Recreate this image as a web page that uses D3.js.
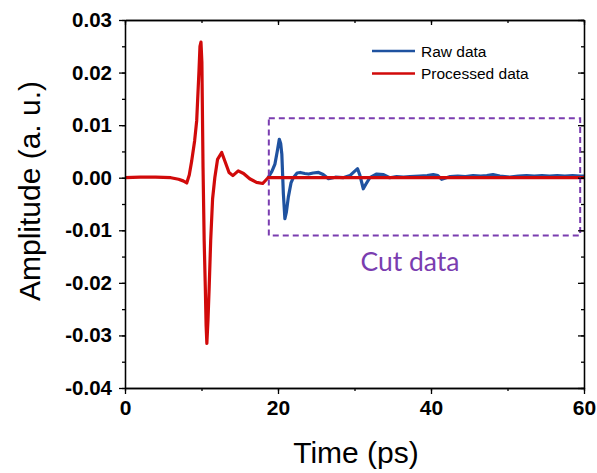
<!DOCTYPE html>
<html><head><meta charset="utf-8">
<script src="https://cdn.jsdelivr.net/npm/d3@7"></script>
<style>body{margin:0;background:#fff}svg{display:block}</style>
</head><body><svg id="c" width="597" height="473"></svg>
<script>
const xTicks = [0, 20, 40, 60];
const yTicks = [0.03, 0.02, 0.01, 0.00, -0.01, -0.02, -0.03, -0.04];
const seriesNames = ["Raw data", "Processed data"];

const processedTime  = [0, 2, 4, 6, 7, 7.6, 8.07, 8.4, 8.72, 9.1, 9.37, 9.67, 9.8, 9.93, 10.05, 10.2, 10.35, 10.5, 10.6, 10.7, 10.85, 11.0, 11.2, 11.45, 11.74, 12.1, 12.64, 13.1, 13.6, 14.1, 14.8, 15.5, 16.3, 17.2, 18.0, 18.7, 30, 45, 60];
const processedValue = [0, 0.0001, 0.0001, 0, -0.0003, -0.0006, -0.001, 0.0005, 0.0032, 0.007, 0.0108, 0.0203, 0.025, 0.0258, 0.022, 0.002, -0.012, -0.021, -0.028, -0.0315, -0.027, -0.021, -0.012, -0.004, 0, 0.0035, 0.0048, 0.003, 0.001, 0.0004, 0.0013, 0.0008, -0.0002, -0.0009, -0.0011, 0, 0, 0, 0];

const rawTime  = [18.7, 19.2, 19.6, 19.9, 20.17, 20.35, 20.5, 20.7, 20.9, 21.1, 21.35, 21.7, 22.0, 22.5, 22.9, 23.5, 24.0, 24.6, 25.3, 25.9, 26.6, 27.5, 28.5, 29.4, 30.0, 30.4, 30.7, 31.15, 31.5, 32.0, 32.9, 33.8, 34.6, 35.5, 36.4, 37.25, 38.5, 39.5, 40.3, 40.9, 41.4, 42.0, 42.5, 43.5, 44.5, 45.5, 46.5, 47.3, 48.1, 49.0, 50.3, 51.4, 52.5, 53.5, 54.5, 55.5, 56.5, 57.5, 58.5, 59.5, 60];
const rawValue = [0, 0.0012, 0.0026, 0.005, 0.0073, 0.0065, 0.0045, -0.003, -0.0078, -0.0065, -0.0037, -0.001, 0, 0.0009, 0.001, 0.0008, 0.0007, 0.0009, 0.001, 0.0006, -0.0002, 0.0001, 0, 0.0004, 0.0012, 0.0017, 0.0005, -0.0021, -0.0012, 0, 0.0007, 0.0006, 0, 0.0002, 0.0001, 0.0002, 0.0003, 0.0004, 0.0006, 0.0004, -0.0003, 0, 0.0002, 0.0003, 0.0002, 0.0004, 0.0003, 0.0004, 0.0006, 0.0003, 0.0001, 0.0003, 0.0004, 0.0003, 0.0004, 0.0003, 0.0004, 0.0003, 0.0004, 0.0003, 0.0003];

const cutRange = [18.8, 59.5];
const cutAmp = [-0.011, 0.0113];
const cutLabel = "Cut data";

const svg = d3.select("#c");
const m = {l: 125, t: 20, r: 13, b: 85};
const W = 597 - m.l - m.r, H = 473 - m.t - m.b;
const x = d3.scaleLinear().domain([0, 60]).range([0, W]);
const y = d3.scaleLinear().domain([-0.04, 0.03]).range([H, 0]);
const g = svg.append("g").attr("transform", `translate(${m.l},${m.t})`);

const red = "#d10a0a", blue = "#1f52a0", purple = "#7a3db0";

// data lines
const line = d3.line().x(d => x(d[0])).y(d => y(d[1]));
g.append("path").datum(rawTime.map((t, i) => [t, rawValue[i]]))
  .attr("d", line).attr("fill", "none").attr("stroke", blue).attr("stroke-width", 3.2).attr("stroke-linejoin", "round");
g.append("path").datum(processedTime.map((t, i) => [t, processedValue[i]]))
  .attr("d", line).attr("fill", "none").attr("stroke", red).attr("stroke-width", 3.2).attr("stroke-linejoin", "round");

// cut box
g.append("rect")
  .attr("x", x(cutRange[0])).attr("y", y(cutAmp[1]))
  .attr("width", x(cutRange[1]) - x(cutRange[0])).attr("height", y(cutAmp[0]) - y(cutAmp[1]))
  .attr("fill", "none").attr("stroke", purple).attr("stroke-width", 2).attr("stroke-dasharray", "6,4");
g.append("text").attr("x", 410 - m.l).attr("y", 271 - m.t).attr("text-anchor", "middle")
  .attr("font-family", "Lato, 'Open Sans', sans-serif").attr("font-size", 26.5).attr("fill", purple).text(cutLabel);

// axes
const fmtY = d => d3.format(".2f")(d).replace("−", "-");
const tickStyle = (sel, fs) => {
  sel.select(".domain").attr("stroke", "#000").attr("stroke-width", 1.3);
  sel.selectAll(".tick line").attr("stroke", "#000").attr("stroke-width", 1.3);
  sel.selectAll("text").attr("font-family", "'Liberation Sans', Arial, sans-serif").attr("font-weight", "bold").attr("font-size", fs || 20).attr("fill", "#000");
};
const xMinor = d3.range(0, 61, 10), yMinor = d3.range(-0.04, 0.0301, 0.005);

const bx = g.append("g").attr("transform", `translate(0,${H})`)
  .call(d3.axisBottom(x).tickValues(xTicks).tickFormat(d3.format("d")).tickSize(6).tickSizeOuter(0).tickPadding(6));
tickStyle(bx, 21);
g.append("g").attr("transform", `translate(0,${H})`).call(d3.axisBottom(x).tickValues(xMinor).tickFormat("").tickSize(3).tickSizeOuter(0)).call(tickStyle);

const tx = g.append("g").call(d3.axisBottom(x).tickValues(xTicks).tickFormat("").tickSize(5).tickSizeOuter(0));
tickStyle(tx);
g.append("g").call(d3.axisBottom(x).tickValues(xMinor).tickFormat("").tickSize(3).tickSizeOuter(0)).call(tickStyle);

const ly = g.append("g").call(d3.axisLeft(y).tickValues(yTicks).tickFormat(fmtY).tickSize(6).tickSizeOuter(0).tickPadding(7));
tickStyle(ly, 20.5);
g.append("g").call(d3.axisLeft(y).tickValues(yMinor).tickFormat("").tickSize(3).tickSizeOuter(0)).call(tickStyle);

const ry = g.append("g").attr("transform", `translate(${W},0)`).call(d3.axisLeft(y).tickValues(yTicks).tickFormat("").tickSize(6).tickSizeOuter(0));
tickStyle(ry);
g.append("g").attr("transform", `translate(${W},0)`).call(d3.axisLeft(y).tickValues(yMinor).tickFormat("").tickSize(3).tickSizeOuter(0)).call(tickStyle);

// axis titles
svg.append("text").attr("x", 356).attr("y", 463).attr("text-anchor", "middle")
  .attr("font-family", "'Liberation Sans', Arial, sans-serif").attr("font-size", 30).text("Time (ps)");
svg.append("text").attr("transform", "translate(40,191) rotate(-90)").attr("text-anchor", "middle")
  .attr("font-family", "'Liberation Sans', Arial, sans-serif").attr("font-size", 30).text("Amplitude (a. u.)");

// legend
const legColors = [blue, red];
seriesNames.forEach((n, i) => {
  const yy = 51 + i * 22.5;
  svg.append("line").attr("x1", 372).attr("x2", 415).attr("y1", yy).attr("y2", yy)
    .attr("stroke", legColors[i]).attr("stroke-width", 2.5);
  svg.append("text").attr("x", 421).attr("y", yy + 5.5)
    .attr("font-family", "'Liberation Sans', Arial, sans-serif").attr("font-size", 15.5).text(n);
});
</script></body></html>
